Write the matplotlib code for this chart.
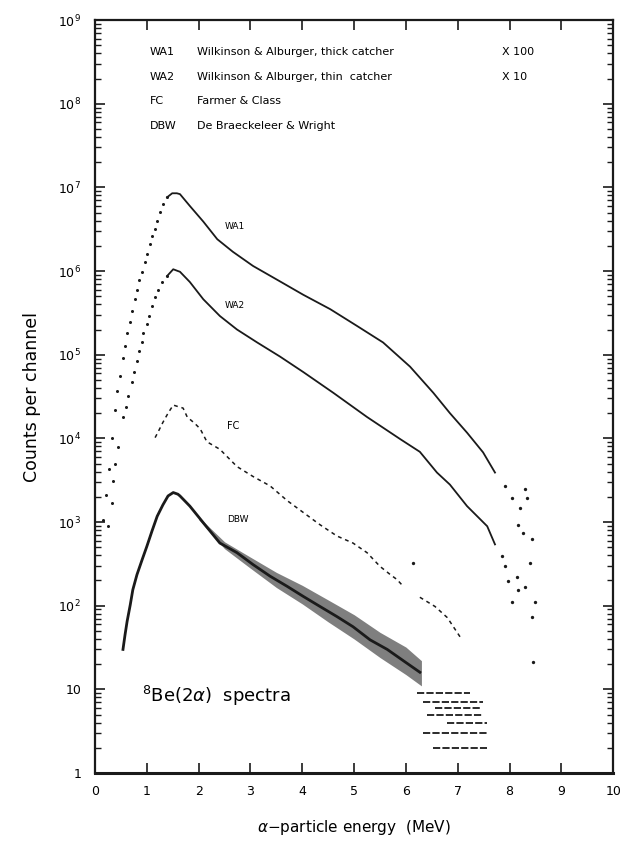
import math
import matplotlib
matplotlib.use("Agg")
import matplotlib.pyplot as plt
from matplotlib.ticker import LogLocator, FixedLocator, FuncFormatter, NullFormatter

# WA1: Wilkinson & Alburger, thick catcher (x100)
wa1_rise_x = [0.15, 0.21, 0.27, 0.33, 0.39, 0.43, 0.48, 0.54, 0.58, 0.62, 0.68, 0.71, 0.77,
              0.81, 0.85, 0.91, 0.97, 1.00, 1.06, 1.10, 1.16, 1.20, 1.26, 1.31, 1.39]
wa1_rise_y = [1.07e3, 2.1e3, 4.3e3, 1.0e4, 2.2e4, 3.7e4, 5.6e4, 9.1e4, 1.26e5, 1.8e5, 2.45e5,
              3.3e5, 4.6e5, 6.0e5, 7.8e5, 9.8e5, 1.29e6, 1.6e6, 2.1e6, 2.6e6, 3.2e6, 4.0e6,
              5.1e6, 6.3e6, 7.6e6]
wa1_x = [1.39, 1.49, 1.58, 1.64, 1.83, 2.09, 2.36, 2.66, 3.05, 3.51, 4.02, 4.54, 5.06, 5.56,
         6.08, 6.53, 6.85, 7.18, 7.49, 7.72]
wa1_y = [7.6e6, 8.5e6, 8.5e6, 8.3e6, 6.0e6, 3.9e6, 2.4e6, 1.7e6, 1.15e6, 7.9e5, 5.2e5, 3.5e5,
         2.2e5, 1.4e5, 7.2e4, 3.5e4, 2.0e4, 1.17e4, 6.8e3, 3.9e3]
wa1_tail_x = [7.92, 8.05, 8.21, 8.30, 8.34, 8.17, 8.26, 8.44, 8.40, 8.30, 8.49, 8.44, 8.46]
wa1_tail_y = [2.7e3, 1.95e3, 1.48e3, 2.45e3, 1.95e3, 930, 740, 620, 320, 166, 110, 74, 21]

# WA2: Wilkinson & Alburger, thin catcher (x10)
wa2_rise_x = [0.25, 0.33, 0.35, 0.39, 0.44, 0.54, 0.60, 0.64, 0.71, 0.75, 0.81, 0.85, 0.91,
              0.93, 1.00, 1.04, 1.10, 1.16, 1.22, 1.29, 1.39]
wa2_rise_y = [890, 1.7e3, 3.1e3, 4.9e3, 7.8e3, 1.8e4, 2.4e4, 3.2e4, 4.7e4, 6.2e4, 8.3e4,
              1.1e5, 1.4e5, 1.8e5, 2.3e5, 2.9e5, 3.8e5, 4.9e5, 6.0e5, 7.4e5, 8.7e5]
wa2_x = [1.39, 1.51, 1.60, 1.64, 1.83, 2.09, 2.41, 2.74, 3.13, 3.57, 4.02, 4.60, 5.25, 5.89,
         6.27, 6.60, 6.85, 7.18, 7.57, 7.72]
wa2_y = [8.7e5, 1.05e6, 1.0e6, 9.8e5, 7.4e5, 4.6e5, 2.9e5, 2.0e5, 1.4e5, 9.5e4, 6.2e4, 3.5e4,
         1.8e4, 9.8e3, 6.9e3, 3.9e3, 2.8e3, 1.55e3, 890, 540]
wa2_tail_x = [7.86, 7.92, 7.97, 8.15, 8.17, 8.05]
wa2_tail_y = [390, 295, 195, 220, 155, 110]

# FC: Farmer & Class
fc_x = [1.16, 1.22, 1.31, 1.41, 1.51, 1.60, 1.70, 1.78, 1.93, 2.03, 2.16, 2.41, 2.74, 3.05,
        3.38, 3.71, 4.02, 4.34, 4.67, 4.98, 5.25, 5.50, 5.70, 5.83, 5.95]
fc_y = [1.02e4, 1.2e4, 1.55e4, 2.0e4, 2.5e4, 2.4e4, 2.3e4, 1.8e4, 1.5e4, 1.3e4, 9.1e3, 7.4e3,
        4.6e3, 3.5e3, 2.7e3, 1.8e3, 1.3e3, 930, 680, 560, 430, 295, 235, 205, 170]
fc_tail_x = [6.27, 6.56, 6.80, 7.05]
fc_tail_y = [126, 98, 72, 42]
fc_stray_x = [6.14]
fc_stray_y = [320]

# DBW: De Braeckeleer & Wright
dbw_x = [0.54, 0.58, 0.62, 0.68, 0.73, 0.81, 0.91, 1.00, 1.10, 1.20, 1.31, 1.41, 1.51, 1.60,
         1.64, 1.83, 2.09, 2.41, 2.74, 3.05, 3.38, 3.71, 4.02, 4.34, 4.67, 4.98, 5.31, 5.64,
         5.95, 6.27]
dbw_y = [30, 45, 65, 102, 155, 235, 355, 510, 780, 1.17e3, 1.6e3, 2.05e3, 2.25e3, 2.15e3,
         2.05e3, 1.55e3, 980, 560, 430, 310, 225, 170, 129, 98, 74, 56, 39, 30, 22, 16]
# spread of the DBW points above/below the trend
dbw_band_x = [2.0, 2.5, 3.0, 3.5, 4.0, 4.5, 5.0, 5.5, 6.0, 6.3]
dbw_band_hi = [1150, 580, 380, 250, 175, 117, 78, 48, 32, 22]
dbw_band_lo = [1070, 480, 280, 165, 105, 64, 40, 24, 15, 11]
# low-count channels (integer counts) at the high-energy end
dbw_low_counts = [9, 7, 6, 5, 4, 3, 2]
dbw_low_xmin = [6.22, 6.33, 6.56, 6.41, 6.80, 6.33, 6.53]
dbw_low_xmax = [7.24, 7.49, 7.43, 7.49, 7.57, 7.57, 7.57]

legend_keys = ["WA1", "WA2", "FC", "DBW"]
legend_names = ["Wilkinson & Alburger, thick catcher", "Wilkinson & Alburger, thin  catcher",
                "Farmer & Class", "De Braeckeleer & Wright"]
legend_scale = ["X 100", "X 10", "", ""]

plt.rcParams["font.family"] = ["DejaVu Sans"]

fig = plt.figure(figsize=(6.25, 8.46), dpi=100)
ax = fig.add_axes([0.152, 0.0863, 0.829, 0.890])

ink = "#1a1a1a"
ax.plot(wa1_rise_x, wa1_rise_y, "o", ms=2.2, color=ink, mec="none")
ax.plot(wa1_x, wa1_y, "-", lw=1.3, color=ink)
ax.plot(wa1_tail_x, wa1_tail_y, "o", ms=2.4, color=ink, mec="none")

ax.plot(wa2_rise_x, wa2_rise_y, "o", ms=2.2, color=ink, mec="none")
ax.plot(wa2_x, wa2_y, "-", lw=1.3, color=ink)
ax.plot(wa2_tail_x, wa2_tail_y, "o", ms=2.4, color=ink, mec="none")

ax.plot(fc_x, fc_y, ls=(0, (2.5, 2.5)), lw=1.1, color=ink)
ax.plot(fc_tail_x, fc_tail_y, ls=(0, (2.5, 2.5)), lw=1.1, color=ink)
ax.plot(fc_stray_x, fc_stray_y, "o", ms=2.4, color=ink, mec="none")

ax.fill_between(dbw_band_x, dbw_band_lo, dbw_band_hi, color="#2a2a2a", alpha=0.6, lw=0)
ax.plot(dbw_x, dbw_y, "-", lw=2.0, color=ink)
ax.hlines(dbw_low_counts, dbw_low_xmin, dbw_low_xmax, colors=ink, lw=1.3,
          linestyles=[(0, (4, 1.2))])

ax.set_yscale("log")
ax.set_xlim(0, 10)
ax.set_ylim(1, 1e9)

ax.xaxis.set_major_locator(FixedLocator(range(0, 11)))
ax.yaxis.set_major_locator(LogLocator(base=10, numticks=12))
ax.yaxis.set_minor_locator(LogLocator(base=10, subs=range(2, 10), numticks=12))
ax.yaxis.set_minor_formatter(NullFormatter())


def decade_label(v, pos):
    e = int(round(math.log10(v)))
    if e == 0:
        return "1"
    if e == 1:
        return "10"
    return r"$10^{%d}$" % e


ax.yaxis.set_major_formatter(FuncFormatter(decade_label))
ax.tick_params(which="both", direction="in", top=True, right=True, labelsize=9, color=ink)
ax.tick_params(which="major", length=7, width=1.2)
ax.tick_params(which="minor", length=4, width=1.0)
ax.tick_params(axis="y", pad=10)
ax.tick_params(axis="x", pad=9)
for side, spine in ax.spines.items():
    spine.set_linewidth(1.6 if side != "bottom" else 2.2)
    spine.set_color(ink)

ax.set_xlabel(r"$\alpha$" + "\u2212particle energy  (MeV)", fontsize=11, labelpad=14)
ax.set_ylabel("Counts per channel", fontsize=12.5, labelpad=12)

# legend block
for i, (k, n, s) in enumerate(zip(legend_keys, legend_names, legend_scale)):
    yy = 0.958 - i * 0.033
    ax.text(0.105, yy, k, transform=ax.transAxes, fontsize=8, va="center")
    ax.text(0.197, yy, n, transform=ax.transAxes, fontsize=8, va="center")
    ax.text(0.785, yy, s, transform=ax.transAxes, fontsize=8, va="center")

# curve tags
ax.text(2.5, 3.2e6, "WA1", fontsize=6.5)
ax.text(2.5, 3.6e5, "WA2", fontsize=6.5)
ax.text(2.55, 1.3e4, "FC", fontsize=7)
ax.text(2.55, 1.0e3, "DBW", fontsize=6.5)

ax.text(0.9, 7, r"$^{8}$Be(2$\alpha$)  spectra", fontsize=13)

fig.savefig("out.png", dpi=100)
